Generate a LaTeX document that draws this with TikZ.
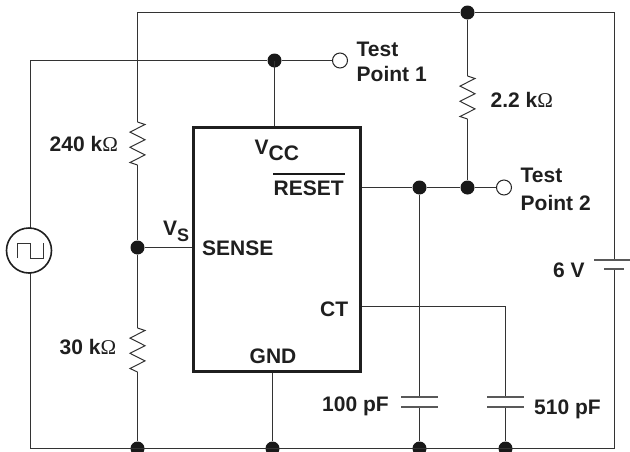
\documentclass[tikz,border=0pt]{standalone}
\usepackage{fontspec}
\setmainfont{Liberation Sans}
\newfontfamily\omegafont{Liberation Serif}
\newcommand{\ohm}{{\omegafont\mdseries Ω}}
\tikzset{
  wire/.style={draw=black!80, line width=1pt},
  icbox/.style={draw=black!88, line width=3.2pt, miter limit=10},
  dot/.style={circle, fill=black!90, inner sep=0pt, minimum size=14pt},
  testpt/.style={circle, draw=black!85, line width=1pt, fill=white, inner sep=0pt, minimum size=15pt},
  src/.style={circle, draw=black!88, line width=1.6pt, fill=white, inner sep=0pt, minimum size=45pt},
  lbl/.style={inner sep=0pt, text=black!88, font=\fontsize{21}{25}\selectfont\bfseries, align=left},
  resistor/.style={wire, line join=miter},
  plate/.style={draw=black!65, line width=1.4pt}
}
\newcommand{\zigzag}[3]{% x, top y, bottom y
  \draw[resistor] (#1,#2) -- ++(7.5,2.5) -- ++(-15,7.6) -- ++(15,7.6) -- ++(-15,7.6) -- ++(15,7.6) -- ++(-15,7.6) -- (#1,#3);
}
\begin{document}
\begin{tikzpicture}[x=1pt,y=-1pt]
\useasboundingbox (0,0) rectangle (630,451);
% nodes
\node[dot] (dTop) at (467.5,12.5) {};
\node[dot] (dVcc) at (274.5,60.5) {};
\node[dot] (dR1) at (419.5,187.5) {};
\node[dot] (dR2) at (467.5,187.5) {};
\node[dot] (dS) at (137.5,247.5) {};
\node[dot] (dB1) at (137.5,448.5) {};
\node[dot] (dB2) at (272.5,448.5) {};
\node[dot] (dB3) at (419.5,448.5) {};
\node[dot] (dB4) at (505.5,448.5) {};
\node[testpt] (tp1) at (340,60.5) {};
\node[testpt] (tp2) at (504,187.5) {};
\coordinate (tl) at (137.5,12.5);
\coordinate (tr) at (614.5,12.5);
\coordinate (br) at (614.5,448.5);
\coordinate (bl) at (30.5,448.5);
\coordinate (ul) at (30.5,60.5);
\coordinate (r1a) at (137.5,122);
\coordinate (r1b) at (137.5,165);
\coordinate (r2a) at (137.5,328);
\coordinate (r2b) at (137.5,372);
\coordinate (r3a) at (467.5,76);
\coordinate (r3b) at (467.5,119);
\coordinate (c1a) at (419.5,397);
\coordinate (c1b) at (419.5,407);
\coordinate (c2a) at (505.5,397);
\coordinate (c2b) at (505.5,407);
\coordinate (ba) at (614.5,260);
\coordinate (bb) at (614.5,269);
\coordinate (ctc) at (505.5,306.5);
\coordinate (box-vcc) at (274.5,128);
\coordinate (box-gnd) at (272.5,372);
\coordinate (box-sense) at (193,247.5);
\coordinate (box-reset) at (360,187.5);
\coordinate (box-ct) at (360,306.5);
% wires
\draw[wire] (r1a) -- (tl) -- (dTop) -- (tr) -- (ba);
\draw[wire] (bb) -- (br) -- (bl) -- (ul) -- (dVcc) -- (tp1);
\draw[wire] (dVcc.center) -- (box-vcc);
\draw[wire] (box-gnd) -- (dB2);
\draw[wire] (r1b) -- (dS) -- (r2a);
\draw[wire] (r2b) -- (dB1);
\draw[wire] (dS) -- (box-sense);
\draw[wire] (box-reset) -- (dR1) -- (dR2) -- (tp2);
\draw[wire] (dTop) -- (r3a);
\draw[wire] (r3b) -- (dR2);
\draw[wire] (dR1) -- (c1a);
\draw[wire] (c1b) -- (dB3);
\draw[wire] (box-ct) -- (ctc) -- (c2a);
\draw[wire] (c2b) -- (dB4);
% resistors
\zigzag{137.5}{122}{165}
\zigzag{137.5}{328}{372}
\zigzag{467.5}{76}{119}
% capacitors and battery
\draw[plate] (401,397) -- (438,397);
\draw[plate] (401,407) -- (438,407);
\draw[plate] (487,397) -- (524,397);
\draw[plate] (487,407) -- (524,407);
\draw[plate] (594,260) -- (630,260);
\draw[plate] (604,269) -- (624,269);
% IC
\node[icbox, minimum width=167.4pt, minimum height=244pt, inner sep=0pt] (ic) at (277,249.7) {};
% source
\node[src] (source) at (29,250.5) {};
\draw[wire] (17,258) -- (17,243) -- (30,243) -- (30,258) -- (43,258) -- (43,243);
% labels
\node[lbl, anchor=base west] (l240) at (49.5,151) {240 k\ohm};
\node[lbl, anchor=base west] (l30) at (59.5,354) {30 k\ohm};
\node[lbl, anchor=base west] (l22) at (490.5,107) {2.2 k\ohm};
\node[lbl, anchor=base west] (lVcc) at (254.5,154) {V\raisebox{-6pt}{CC}};
\node[lbl, anchor=base west] (lReset) at (273.5,195) {RESET};
\draw[draw=black!90, line width=1.6pt] (273,174) -- (345,174);
\node[lbl, anchor=base west] (lVs) at (163,235) {V\raisebox{-6pt}{\fontsize{18}{20}\selectfont S}};
\node[lbl, anchor=base west] (lSense) at (202,255.5) {SENSE};
\node[lbl, anchor=base west] (lCT) at (320,316) {CT};
\node[lbl, anchor=base west] (lGnd) at (249.5,363) {GND};
\node[lbl, anchor=base west] (lTp1a) at (356.5,56) {Test};
\node[lbl, anchor=base west] (lTp1b) at (356.5,81.5) {Point 1};
\node[lbl, anchor=base west] (lTp2a) at (520.5,182.5) {Test};
\node[lbl, anchor=base west] (lTp2b) at (520.5,210) {Point 2};
\node[lbl, anchor=base west] (l6v) at (553,277) {6 V};
\node[lbl, anchor=base west] (l100) at (322,411) {100 pF};
\node[lbl, anchor=base west] (l510) at (534,414) {510 pF};
\end{tikzpicture}
\end{document}
